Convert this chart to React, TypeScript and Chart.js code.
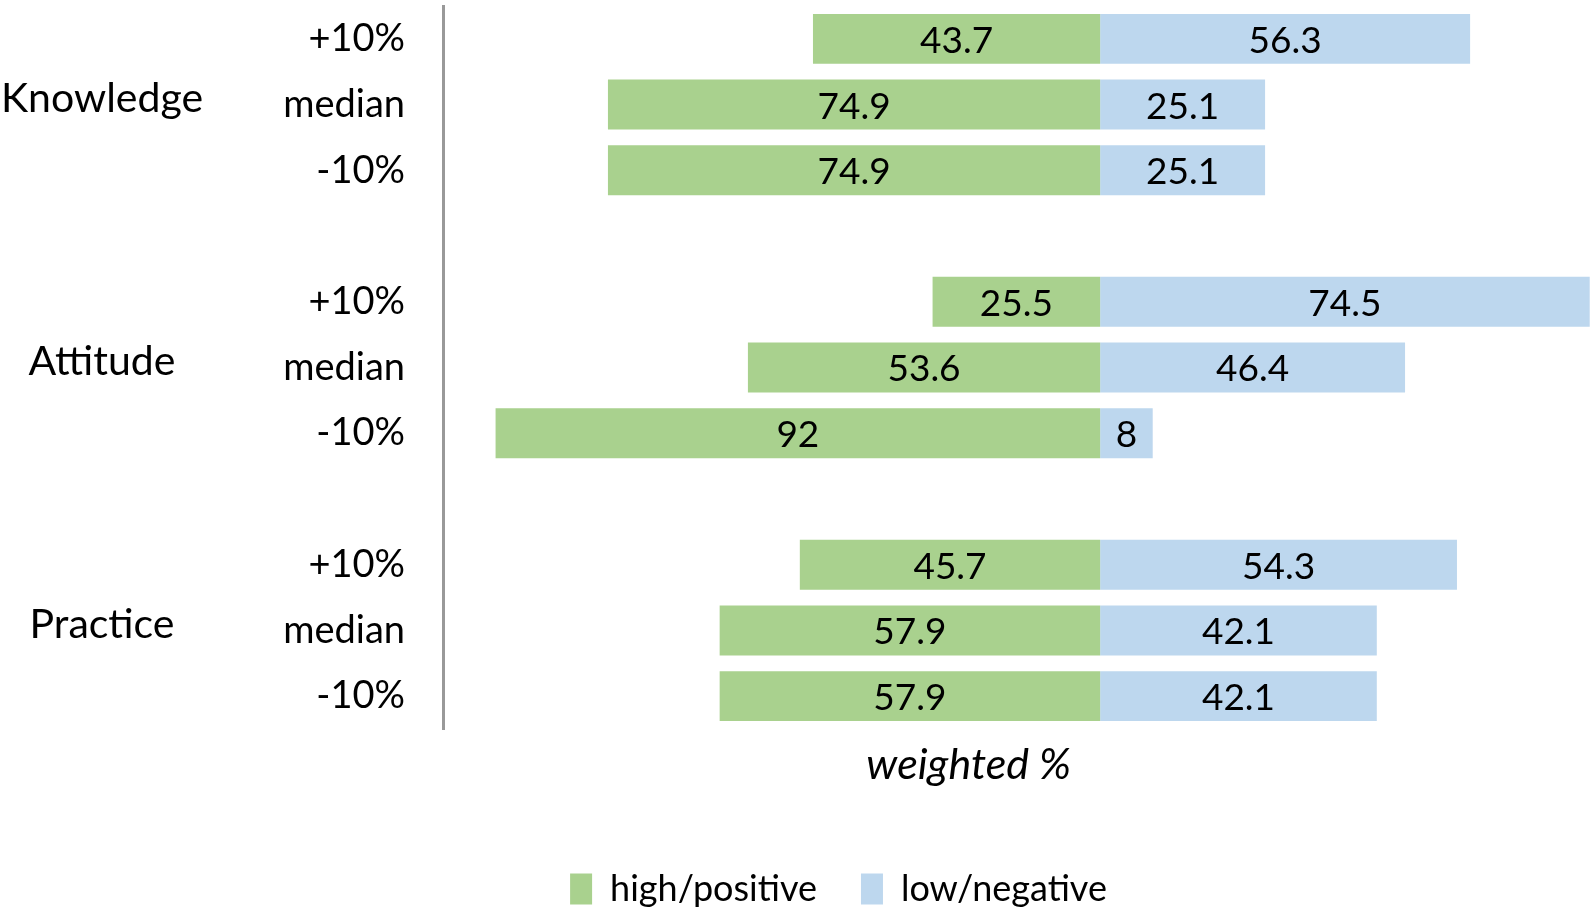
import { useEffect, useRef } from 'react';
import { Chart, registerables, type Plugin } from 'chart.js';

Chart.register(...registerables);

const FONT = 'Lato, "Noto Sans", sans-serif';

// rows top to bottom, '' rows are the gaps between groups
const rowLabels = ['+10%', 'median', '-10%', '', '+10%', 'median', '-10%', '', '+10%', 'median', '-10%'];
const groupLabels = ['Knowledge', 'Attitude', 'Practice'];
const groupRows = [1, 5, 9];
const highPositive = [43.7, 74.9, 74.9, null, 25.5, 53.6, 92, null, 45.7, 57.9, 57.9];
const lowNegative = [56.3, 25.1, 25.1, null, 74.5, 46.4, 8, null, 54.3, 42.1, 42.1];
const axisTitle = 'weighted %';

const GREEN = '#a9d18e';
const BLUE = '#bdd7ee';

// value text in the middle of each bar
const barLabels: Plugin<'bar'> = {
  id: 'barLabels',
  afterDatasetsDraw(chart) {
    const { ctx } = chart;
    ctx.save();
    ctx.font = `37px ${FONT}`;
    ctx.fillStyle = '#000';
    ctx.textAlign = 'center';
    ctx.textBaseline = 'middle';
    chart.data.datasets.forEach((ds, i) => {
      chart.getDatasetMeta(i).data.forEach((bar, j) => {
        const v = ds.data[j] as number | null;
        if (v == null) return;
        const { x, base, y } = bar.getProps(['x', 'base', 'y'], true) as any;
        ctx.fillText(String(Math.abs(v)), (x + base) / 2, y + 2);
      });
    });
    ctx.restore();
  },
};

// group names on the left and the italic x title
const extras: Plugin<'bar'> = {
  id: 'extras',
  afterDraw(chart) {
    const { ctx } = chart;
    const xs = chart.scales.x;
    const ys = chart.scales.y;
    ctx.save();
    ctx.fillStyle = '#000';
    ctx.textAlign = 'center';
    ctx.textBaseline = 'middle';
    ctx.font = `41px ${FONT}`;
    groupLabels.forEach((g, i) => {
      ctx.fillText(g, 102, ys.getPixelForValue(groupRows[i]) - 6);
    });
    ctx.font = `italic 43px ${FONT}`;
    ctx.fillText(axisTitle, xs.getPixelForValue(-20), 765);
    ctx.restore();
  },
};

export default function App() {
  const canvasRef = useRef<HTMLCanvasElement>(null);
  const chartRef = useRef<Chart<'bar'> | null>(null);

  useEffect(() => {
    document.body.style.margin = '0';
    if (!canvasRef.current) return;
    chartRef.current?.destroy();

    chartRef.current = new Chart(canvasRef.current, {
      type: 'bar',
      data: {
        labels: rowLabels,
        datasets: [
          {
            label: 'high/positive',
            data: highPositive.map((v) => (v == null ? null : -v)),
            backgroundColor: GREEN,
            borderWidth: 0,
          },
          {
            label: 'low/negative',
            data: lowNegative,
            backgroundColor: BLUE,
            borderWidth: 0,
          },
        ],
      },
      options: {
        indexAxis: 'y',
        responsive: true,
        maintainAspectRatio: false,
        animation: false,
        events: [],
        datasets: { bar: { categoryPercentage: 1, barPercentage: 0.76 } },
        layout: { padding: { left: 84, top: 6, right: 2, bottom: -6 } },
        plugins: {
          tooltip: { enabled: false },
          legend: {
            position: 'bottom',
            labels: {
              font: { family: FONT, size: 36 },
              color: '#000',
              boxWidth: 22,
              boxHeight: 31,
              padding: 44,
            },
          },
        },
        scales: {
          x: {
            stacked: true,
            min: -100,
            max: 75,
            ticks: { display: false },
            grid: { display: false, drawTicks: false },
            border: { display: false },
            afterFit: (s) => {
              s.height = 98;
            },
          },
          y: {
            stacked: true,
            grid: { display: false, drawTicks: false },
            border: { display: true, color: '#999', width: 3 },
            ticks: {
              font: { family: FONT, size: 38 },
              color: '#000',
              padding: 38,
              autoSkip: false,
            },
            afterFit: (s) => {
              s.width = 443 - 84;
              s.paddingTop = 0;
              s.paddingBottom = 0;
            },
          },
        },
      },
      plugins: [barLabels, extras],
    });

    return () => {
      chartRef.current?.destroy();
      chartRef.current = null;
    };
  }, []);

  return (
    <div style={{ position: 'relative', width: 1595, height: 911 }}>
      <canvas ref={canvasRef} />
    </div>
  );
}
